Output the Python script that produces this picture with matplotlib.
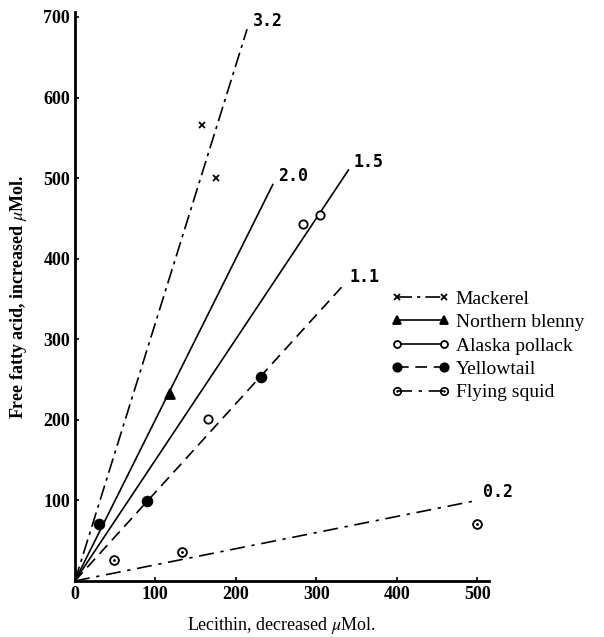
import matplotlib.pyplot as plt
from matplotlib.lines import Line2D

plt.rcParams["font.family"] = ["Liberation Serif", "DejaVu Serif"]
plt.rcParams["mathtext.fontset"] = "stix"

species = ["Mackerel", "Northern blenny", "Alaska pollack", "Yellowtail", "Flying squid"]

# fitted slopes and the x where each line stops
slopes = [3.2, 2.0, 1.5, 1.1, 0.2]
line_ends = [214, 246, 340, 334, 500]
slope_labels = ["3.2", "2.0", "1.5", "1.1", "0.2"]

# measured points
mackerel_x = [158, 175]
mackerel_y = [566, 500]
blenny_x = [118]
blenny_y = [232]
pollack_x = [165, 284, 305]
pollack_y = [201, 443, 454]
yellowtail_x = [30, 90, 231]
yellowtail_y = [71, 99, 253]
squid_x = [49, 133, 500]
squid_y = [26, 36, 71]

points_x = [mackerel_x, blenny_x, pollack_x, yellowtail_x, squid_x]
points_y = [mackerel_y, blenny_y, pollack_y, yellowtail_y, squid_y]

dashes = [(9, 3, 2, 3), None, None, (7, 4), (9, 4, 2, 4)]
markers = ["x", "^", "o", "o", r"$\odot$"]
msizes = [5, 7, 6, 7, 7]
facecols = ["k", "k", "white", "k", "k"]
mews = [1.3, 1.3, 1.3, 1.3, 0.6]

fig = plt.figure(figsize=(6.04, 6.37), dpi=100)
ax = fig.add_axes([0.124, 0.088, 0.686, 0.893])

handles = []
for i in range(len(species)):
    xs = [0, line_ends[i]]
    ys = [0, slopes[i] * line_ends[i]]
    ln, = ax.plot(xs, ys, color="k", lw=1.2)
    if dashes[i]:
        ln.set_dashes(dashes[i])
    ax.plot(points_x[i], points_y[i], ls="none", marker=markers[i],
            ms=msizes[i], mfc=facecols[i], mec="k", mew=mews[i])
    h = Line2D([], [], color="k", lw=1.2, marker=markers[i], ms=msizes[i] - 1,
               mfc=facecols[i], mec="k", mew=mews[i])
    if dashes[i]:
        h.set_dashes(dashes[i])
    handles.append(h)
    ax.annotate(slope_labels[i], (line_ends[i], slopes[i] * line_ends[i]),
                xytext=(4, 6), textcoords="offset points",
                fontsize=12, fontweight="bold", ha="left", va="center",
                family="DejaVu Sans Mono")

ax.set_xlim(0, 515)
ax.set_ylim(0, 706)
ax.set_xticks([0, 100, 200, 300, 400, 500])
ax.set_yticks([100, 200, 300, 400, 500, 600, 700])
ax.tick_params(labelsize=13, length=3, width=1.2, direction="in")
for lab in ax.get_xticklabels() + ax.get_yticklabels():
    lab.set_fontweight("bold")
for s in ["top", "right"]:
    ax.spines[s].set_visible(False)
for s in ["left", "bottom"]:
    ax.spines[s].set_linewidth(2)

ax.set_xlabel(r"Lecithin, decreased $\mu$Mol.", fontsize=13, labelpad=9)
ax.set_ylabel(r"Free fatty acid, increased $\mu$Mol.", fontsize=13,
              fontweight="bold", labelpad=10)

leg = ax.legend(handles, species, loc="upper left", bbox_to_anchor=(0.745, 0.525),
                frameon=False, fontsize=14, handlelength=3.0, handletextpad=0.3,
                labelspacing=0.3, borderaxespad=0, numpoints=2)

fig.savefig("out.png", dpi=100)
